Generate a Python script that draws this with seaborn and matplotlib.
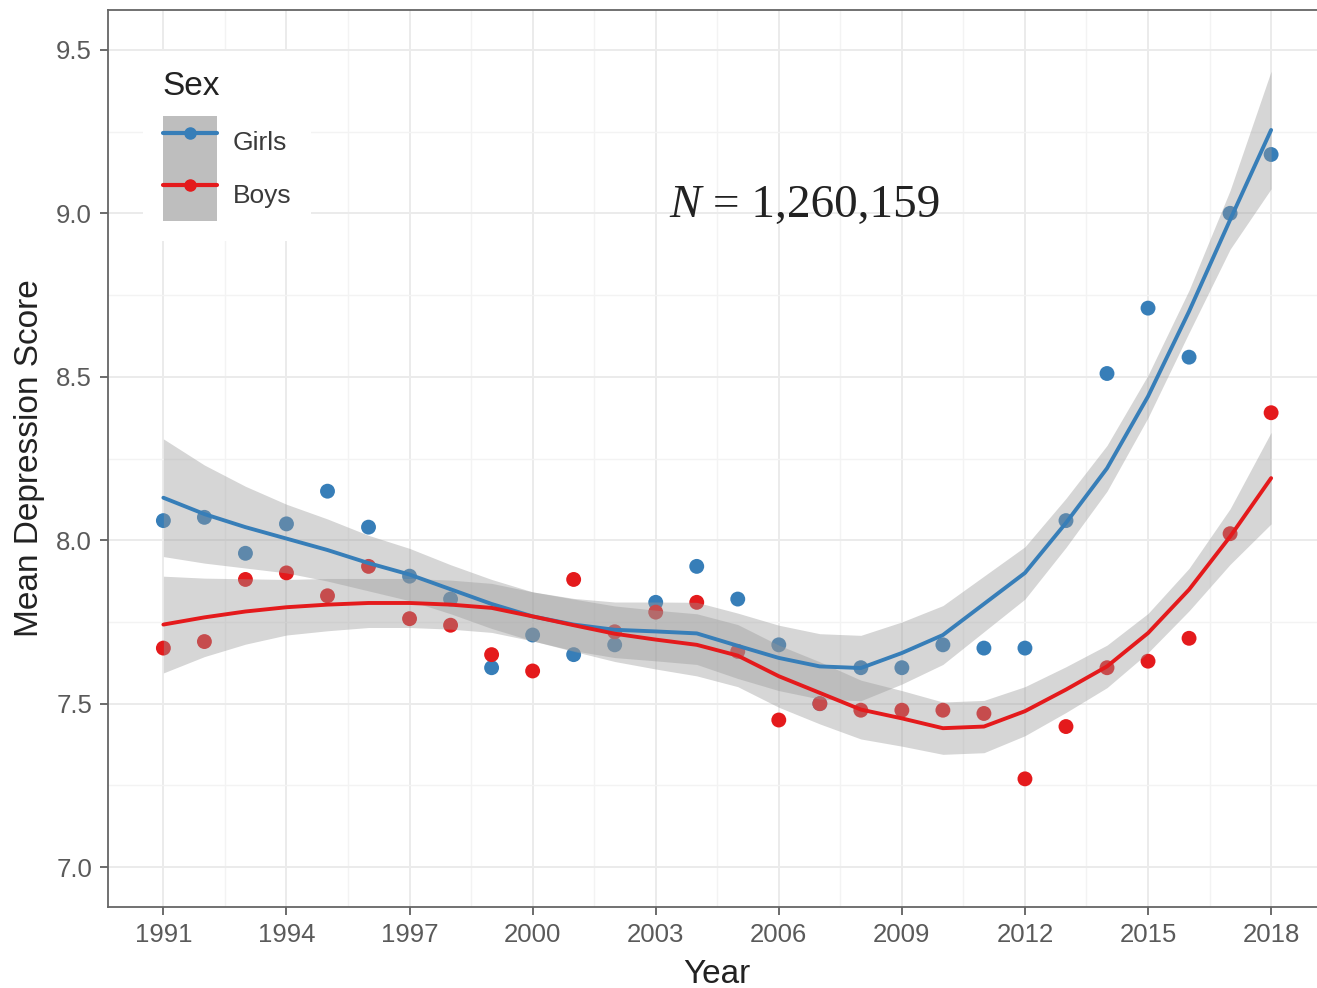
import numpy as np
import pandas as pd
import seaborn as sns
import matplotlib.pyplot as plt
from matplotlib.lines import Line2D
from matplotlib.patches import Patch
from matplotlib.ticker import FixedLocator

# yearly means
years = list(range(1991, 2019))
girls_mean = [8.06, 8.07, 7.96, 8.05, 8.15, 8.04, 7.89, 7.82, 7.61, 7.71,
              7.65, 7.68, 7.81, 7.92, 7.82, 7.68, 7.50, 7.61, 7.61, 7.68,
              7.67, 7.67, 8.06, 8.51, 8.71, 8.56, 9.00, 9.18]
boys_mean = [7.67, 7.69, 7.88, 7.90, 7.83, 7.92, 7.76, 7.74, 7.65, 7.60,
             7.88, 7.72, 7.78, 7.81, 7.66, 7.45, 7.50, 7.48, 7.48, 7.48,
             7.47, 7.27, 7.43, 7.61, 7.63, 7.70, 8.02, 8.39]

# smoothed (loess) curves and the half width of their grey bands
girls_fit = [8.13, 8.08, 8.04, 8.005, 7.97, 7.93, 7.895, 7.85, 7.805, 7.767,
             7.742, 7.726, 7.721, 7.715, 7.677, 7.64, 7.614, 7.609, 7.655, 7.71,
             7.805, 7.90, 8.053, 8.22, 8.44, 8.70, 8.98, 9.255]
boys_fit = [7.742, 7.764, 7.782, 7.795, 7.803, 7.808, 7.808, 7.803, 7.793, 7.767,
            7.74, 7.714, 7.696, 7.68, 7.647, 7.584, 7.533, 7.482, 7.455, 7.425,
            7.43, 7.477, 7.543, 7.614, 7.716, 7.849, 8.011, 8.19]
girls_band = [0.18, 0.15, 0.125, 0.105, 0.095, 0.085, 0.08, 0.075, 0.075, 0.075,
              0.08, 0.085, 0.09, 0.095, 0.10, 0.10, 0.10, 0.10, 0.095, 0.09,
              0.085, 0.08, 0.075, 0.07, 0.065, 0.065, 0.09, 0.18]
boys_band = [0.148, 0.12, 0.10, 0.085, 0.08, 0.075, 0.075, 0.075, 0.075, 0.075,
             0.08, 0.085, 0.09, 0.095, 0.095, 0.095, 0.095, 0.09, 0.085, 0.08,
             0.08, 0.075, 0.07, 0.065, 0.06, 0.065, 0.085, 0.14]

xticks = [1991, 1994, 1997, 2000, 2003, 2006, 2009, 2012, 2015, 2018]
xminor = [1992.5, 1995.5, 1998.5, 2001.5, 2004.5, 2007.5, 2010.5, 2013.5, 2016.5]
yticks = [7.0, 7.5, 8.0, 8.5, 9.0, 9.5]
yminor = [7.25, 7.75, 8.25, 8.75, 9.25]
sexes = ['Girls', 'Boys']
palette = {'Girls': '#377EB8', 'Boys': '#E41A1C'}

n = len(years)
df = pd.DataFrame({
    'Year': years * 2,
    'Score': girls_mean + boys_mean,
    'Fit': girls_fit + boys_fit,
    'Band': girls_band + boys_band,
    'Sex': ['Girls'] * n + ['Boys'] * n,
})

sns.set_theme(style="white")
plt.rcParams['font.family'] = ['Liberation Sans', 'DejaVu Sans']

fig = plt.figure(figsize=(13.17, 9.88), dpi=100)
ax = fig.add_axes([108 / 1317, 81 / 988, 1218.5 / 1317, 897 / 988])

sns.scatterplot(data=df, x='Year', y='Score', hue='Sex', palette=palette,
                s=115, edgecolor='none', legend=False, ax=ax, zorder=2)
for sex in sexes:
    d = df[df.Sex == sex]
    ax.fill_between(d.Year, d.Fit - d.Band, d.Fit + d.Band,
                    color='#999999', alpha=0.4, lw=0, zorder=3)
sns.lineplot(data=df, x='Year', y='Fit', hue='Sex', palette=palette,
             lw=2.8, legend=False, ax=ax, zorder=4)

ax.set_xlim(1989.65, 2019.35)
ax.set_ylim(6.878, 9.622)
ax.set_xticks(xticks)
ax.set_yticks(yticks)
ax.set_yticklabels([f'{v:.1f}' for v in yticks])
ax.xaxis.set_minor_locator(FixedLocator(xminor))
ax.yaxis.set_minor_locator(FixedLocator(yminor))
ax.set_axisbelow(True)
ax.grid(which='major', color='#EBEBEB', lw=1.4)
ax.grid(which='minor', color='#F3F3F3', lw=1.0)
ax.tick_params(which='minor', length=0)
ax.tick_params(which='major', bottom=True, left=True, length=6, width=1.1,
               color='#444444', labelsize=18.5, labelcolor='#5a5a5a', pad=5.5)
for sp in ax.spines.values():
    sp.set_color('#666666')
    sp.set_linewidth(1.3)
ax.spines['right'].set_visible(False)

ax.set_xlabel('Year', fontsize=24, color='#222222', labelpad=9)
ax.set_ylabel('Mean Depression Score', fontsize=24, color='#222222', labelpad=8)

handles = [(Patch(facecolor='#BEBEBE', edgecolor='none'),
            Line2D([], [], color=palette[s], lw=3, marker='o', ms=8))
           for s in sexes]
leg = ax.legend(handles, sexes, title='Sex', loc='upper left',
                bbox_to_anchor=(0.0287, 0.954), borderaxespad=0, borderpad=0.75,
                frameon=True, facecolor='white', edgecolor='none', framealpha=1,
                fontsize=19, title_fontsize=24, handlelength=2.05,
                handleheight=2.68, labelspacing=0, handletextpad=0.6,
                alignment='left')
leg._legend_box.sep = 10
leg.get_title().set_color('#222222')
for t in leg.get_texts():
    t.set_color('#3a3a3a')

# sample size note: italic N, then the rest upright
ax.text(2004.11, 8.99, 'N', fontsize=34, style='italic', ha='right', va='baseline',
        family='Liberation Serif', color='#222222', zorder=6)
ax.text(2004.11, 8.99, ' = 1,260,159', fontsize=34, ha='left', va='baseline',
        family='Liberation Serif', color='#222222', zorder=6)

fig.savefig('out.png', dpi=100)
